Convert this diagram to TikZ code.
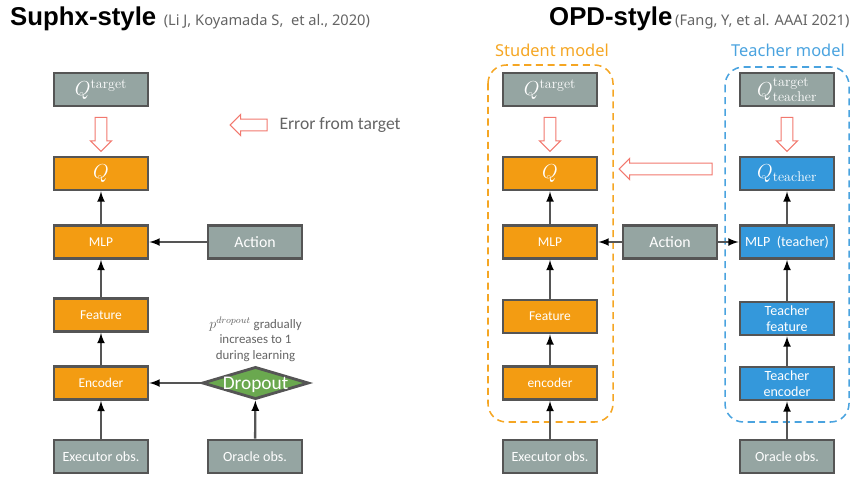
\documentclass[tikz,border=0pt]{standalone}
\usepackage{fontspec}
\setsansfont{Carlito}
\newfontfamily\headfont{Noto Sans}
\newfontfamily\titlefont{Liberation Sans}
\usetikzlibrary{arrows,positioning,calc,shapes.geometric,shapes.arrows}

\definecolor{boxgray}{RGB}{149,165,162}
\definecolor{boxorange}{RGB}{243,156,18}
\definecolor{boxblue}{RGB}{52,152,219}
\definecolor{dropgreen}{RGB}{106,168,79}
\definecolor{edgegray}{RGB}{85,85,85}
\definecolor{errred}{RGB}{242,120,110}
\definecolor{studorange}{RGB}{245,166,35}
\definecolor{teachblue}{RGB}{74,163,223}
\definecolor{notegray}{RGB}{100,100,100}

\begin{document}
\begin{tikzpicture}[x=0.03cm,y=-0.03cm,>=latex,
  box/.style={draw=edgegray,line width=2.4pt,minimum width=2.82cm,minimum height=0.99cm,inner sep=1pt,text=white,align=center,font=\sffamily\fontsize{11.5}{13}\selectfont},
  gbox/.style={box,fill=boxgray},
  obox/.style={box,fill=boxorange},
  bbox/.style={box,fill=boxblue},
  conn/.style={draw=edgegray,line width=2pt},
  hollow/.style={single arrow,draw=errred,fill=white,line width=0.9pt,minimum height=1.02cm,minimum width=0pt,text height=0.32cm,text depth=0pt,single arrow head extend=0.14cm,inner sep=0pt},
  group/.style={line width=1.3pt,rounded corners=0.55cm,dash pattern=on 6pt off 4pt}
]
\useasboundingbox (0,0) rectangle (852,476);

% titles
\node[anchor=base west,inner sep=0,font=\titlefont\bfseries\fontsize{22}{26}\selectfont] (ltitle) at (10,25) {Suphx-style};
\node[anchor=base west,inner sep=0,text=notegray,font=\headfont\fontsize{12.5}{14}\selectfont] (lcite) at ([xshift=6pt]ltitle.base east) {(Li J, Koyamada S,\ \ et al., 2020)};
\node[anchor=base west,inner sep=0,font=\titlefont\bfseries\fontsize{22}{26}\selectfont] (rtitle) at (549,25) {OPD-style};
\node[anchor=base west,inner sep=0,text=notegray,font=\headfont\fontsize{12.5}{14}\selectfont] (rcite) at ([xshift=2pt]rtitle.base east) {(Fang, Y, et al. AAAI 2021)};

% Suphx-style
\node[gbox] (lqt) at (101,89.5) {\LARGE$Q^{\mathrm{target}}$};
\node[obox] (lq) at (101,173.5) {\LARGE$Q$};
\node[obox] (lmlp) at (101,242) {MLP};
\node[obox] (lfeat) at (101,315) {Feature};
\node[obox] (lenc) at (101,383) {Encoder};
\node[gbox,font=\sffamily\fontsize{12}{14}\selectfont] (lexe) at (101,456.5) {Executor obs.};
\node[gbox,font=\sffamily\fontsize{13.5}{15}\selectfont] (lact) at (255,242) {Action};
\node[diamond,draw=edgegray,line width=2.4pt,fill=dropgreen,aspect=3.3,inner sep=0pt,text height=10.6pt,text depth=0pt,minimum width=3.15cm,minimum height=0.96cm,text=white,font=\sffamily\fontsize{16.5}{18}\selectfont] (drop) at (255.5,383) {Dropout};
\node[gbox,font=\sffamily\fontsize{12}{14}\selectfont] (lorc) at (255,456.5) {Oracle obs.};
\node[above=0.12cm of drop,align=center,text=notegray,inner sep=0pt,font=\sffamily\fontsize{11}{13}\selectfont] (dnote) {{\large$p^{dropout}$} gradually\\increases to 1\\during learning};

\node[hollow,rotate=-90] (lerr) at ($(lqt.south)!0.5!(lq.north)$) {};
\node[hollow,shape border rotate=180,minimum height=1.11cm] (legarr) at (251.5,125) {};
\node[right=0.35cm of legarr,inner sep=0pt,text=notegray,font=\sffamily\fontsize{15}{17}\selectfont] (legtxt) {Error from target};

\path[->,conn]
(lexe) edge (lenc)
(lenc) edge (lfeat)
(lfeat) edge (lmlp)
(lmlp) edge (lq)
(lact) edge (lmlp)
(lorc) edge (drop)
(drop) edge (lenc)
;

% OPD-style: student and teacher groups
\draw[group,studorange] (488,65) rectangle (613,422);
\draw[group,teachblue] (725,67) rectangle (849,422);
\node[text=studorange,font=\headfont\fontsize{14}{16}\selectfont] (slabel) at (552,50) {Student model};
\node[text=teachblue,font=\headfont\fontsize{14}{16}\selectfont] (tlabel) at (788,50) {Teacher model};

\node[gbox] (sqt) at (550,89.5) {\LARGE$Q^{\mathrm{target}}$};
\node[obox] (sq) at (550,173.5) {\LARGE$Q$};
\node[obox] (smlp) at (550,242) {MLP};
\node[obox] (sfeat) at (550,316.5) {Feature};
\node[obox] (senc) at (550,383) {encoder};
\node[gbox,font=\sffamily\fontsize{12}{14}\selectfont] (sexe) at (550,456.5) {Executor obs.};

\node[gbox,font=\sffamily\fontsize{13.5}{15}\selectfont] (sact) at (670,242) {Action};

\node[gbox] (tqt) at (787,89.5) {\LARGE$Q^{\mathrm{target}}_{\mathrm{teacher}}$};
\node[bbox] (tq) at (787,173.5) {\LARGE$Q_{\mathrm{teacher}}$};
\node[bbox,font=\sffamily\fontsize{12}{14}\selectfont] (tmlp) at (787,242) {MLP\ \ (teacher)};
\node[bbox,font=\sffamily\fontsize{12}{14}\selectfont] (tfeat) at (787,318.5) {Teacher\\feature};
\node[bbox,font=\sffamily\fontsize{12}{14}\selectfont] (tenc) at (787,383.5) {Teacher\\encoder};
\node[gbox,font=\sffamily\fontsize{12}{14}\selectfont] (torc) at (787,456.5) {Oracle obs.};

\node[hollow,rotate=-90] (serr) at ($(sqt.south)!0.5!(sq.north)$) {};
\node[hollow,rotate=-90] (terr) at ($(tqt.south)!0.5!(tq.north)$) {};
\node[hollow,shape border rotate=180,minimum height=2.79cm] (distill) at ($(sq.east)!0.5!(tq.west)+(0,-4.5)$) {};

\path[->,conn]
(sexe) edge (senc)
(senc) edge (sfeat)
(sfeat) edge (smlp)
(smlp) edge (sq)
(sact) edge (smlp)
(sact) edge (tmlp)
(torc) edge (tenc)
(tenc) edge (tfeat)
(tfeat) edge (tmlp)
(tmlp) edge (tq)
;
\end{tikzpicture}
\end{document}
